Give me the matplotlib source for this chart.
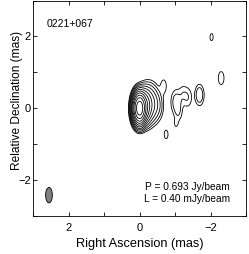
import numpy as np
import matplotlib
matplotlib.use("Agg")
import matplotlib.pyplot as plt
from matplotlib.patches import Ellipse
from matplotlib.ticker import MultipleLocator

plt.rcParams['font.family'] = ['Liberation Sans', 'DejaVu Sans']

source_name = "0221+067"
peak_jy = 0.693          # Jy/beam
lowest_mjy = 0.40        # mJy/beam
n_levels = 11

# Gaussian components: RA offset (mas), Dec offset (mas), peak (Jy/beam), size factor
comp_ra = [0.0, -0.14, -0.28, -0.42, -0.52, -1.03, -1.10, -1.36, -1.22, -1.69, -0.68, -2.03, -2.30, -1.03, -0.75]
comp_dec = [0.0, 0.06, 0.12, 0.12, 0.06, 0.18, -0.12, 0.30, 0.40, 0.37, 0.62, 1.98, 0.84, -0.42, -0.73]
comp_peak = [0.693, 0.050, 0.008, 0.0018, 0.0008, 0.0012, 0.0006, 0.00075, 0.00055, 0.0015, 0.00070, 0.00050, 0.00065, 0.00048, 0.00052]
comp_scale = [1.0, 1.2, 1.45, 1.4, 1.3, 1.2, 1.0, 1.1, 1.0, 1.0, 0.85, 0.8, 1.0, 0.6, 0.9]

beam_ra_fwhm = 0.19
beam_dec_fwhm = 0.43
beam_pos = (2.55, -2.42)

sx = beam_ra_fwhm / 2.3548
sy = beam_dec_fwhm / 2.3548
x = np.linspace(3, -3, 601)
y = np.linspace(-3, 3, 601)
X, Y = np.meshgrid(x, y)
Z = np.zeros_like(X)
for ra, dec, pk, sc in zip(comp_ra, comp_dec, comp_peak, comp_scale):
    Z += pk * np.exp(-((X - ra) ** 2 / (2 * (sx * sc) ** 2) + (Y - dec) ** 2 / (2 * (sy * sc) ** 2)))

levels = lowest_mjy * 1e-3 * 2.0 ** np.arange(n_levels)

fig = plt.figure(figsize=(2.49, 2.54), dpi=100)
ax = fig.add_axes([33 / 249, (254 - 216) / 254, 213 / 249, 215.5 / 254])
ax.contour(X, Y, Z, levels=levels, colors='black', linewidths=0.6)
ax.add_patch(Ellipse(beam_pos, beam_ra_fwhm, beam_dec_fwhm, facecolor='#808080', edgecolor='black', linewidth=0.6))

ax.set_xlim(3, -3)
ax.set_ylim(-3, 3)
ax.xaxis.set_major_locator(MultipleLocator(2))
ax.yaxis.set_major_locator(MultipleLocator(2))
ax.xaxis.set_minor_locator(MultipleLocator(1))
ax.yaxis.set_minor_locator(MultipleLocator(1))
ax.tick_params(which='both', direction='in', top=True, right=True, length=3, width=0.6, labelsize=8)
ax.tick_params(axis='x', pad=5)
ax.tick_params(axis='y', pad=1.5)
for s in ax.spines.values():
    s.set_linewidth(0.6)
ax.set_xlabel("Right Ascension (mas)", fontsize=9.2, labelpad=4)
ax.set_ylabel("Relative Declination (mas)", fontsize=8.6)
ax.yaxis.set_label_coords(-0.045, 0.534)

ax.text(2.62, 2.34, source_name, fontsize=7.5, va='center', ha='left')
ax.text(-2.55, -2.2, f"P = {peak_jy:.3f} Jy/beam", fontsize=7.3, va='center', ha='right')
ax.text(-2.55, -2.52, f"L = {lowest_mjy:.2f} mJy/beam", fontsize=7.3, va='center', ha='right')

fig.savefig("out.png", dpi=100)
